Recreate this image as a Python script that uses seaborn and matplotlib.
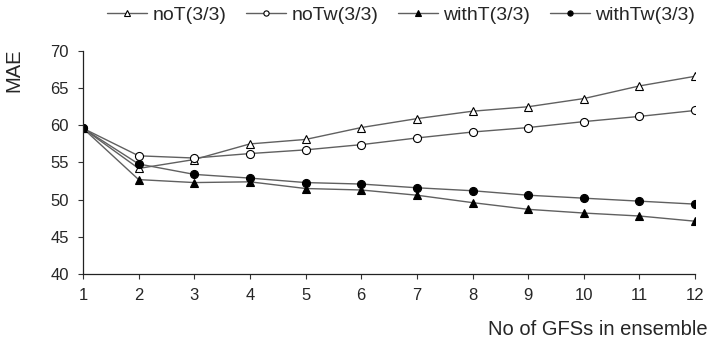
import pandas as pd
import matplotlib
matplotlib.use("Agg")
import matplotlib.pyplot as plt
import seaborn as sns

# values
n_gfs = [1, 2, 3, 4, 5, 6, 7, 8, 9, 10, 11, 12]
noT = [59.6, 54.2, 55.4, 57.5, 58.1, 59.7, 60.9, 61.9, 62.5, 63.6, 65.3, 66.6]
noTw = [59.6, 55.9, 55.6, 56.2, 56.7, 57.4, 58.3, 59.1, 59.7, 60.5, 61.2, 62.0]
withT = [59.6, 52.7, 52.3, 52.4, 51.5, 51.3, 50.6, 49.6, 48.7, 48.2, 47.8, 47.1]
withTw = [59.6, 54.8, 53.4, 52.9, 52.3, 52.1, 51.6, 51.2, 50.6, 50.2, 49.8, 49.4]
series_names = ["noT(3/3)", "noTw(3/3)", "withT(3/3)", "withTw(3/3)"]
y_ticks = [40, 45, 50, 55, 60, 65, 70]

sns.set_style("white")
plt.rcParams['font.family'] = ['Liberation Sans', 'DejaVu Sans']

df = pd.DataFrame({
    "n": n_gfs * 4,
    "MAE": noT + noTw + withT + withTw,
    "series": [s for s in series_names for _ in n_gfs],
})

styles = {
    "noT(3/3)": ("^", "white"),
    "noTw(3/3)": ("o", "white"),
    "withT(3/3)": ("^", "black"),
    "withTw(3/3)": ("o", "black"),
}

fig = plt.figure(figsize=(7.11, 3.45), dpi=100)
ax = fig.add_axes([0.1167, 0.2058, 0.861, 0.6464])

for name in series_names:
    marker, face = styles[name]
    sub = df[df["series"] == name]
    sns.lineplot(data=sub, x="n", y="MAE", ax=ax, color="#606060", linewidth=1.0,
                 marker=marker, markersize=6.3 if marker == "^" else 5.8,
                 markerfacecolor=face, markeredgecolor="black", markeredgewidth=0.8,
                 label=name)

ax.set_xlim(1, 12)
ax.set_ylim(40, 70)
ax.set_xticks(n_gfs)
ax.set_yticks(y_ticks)
ax.tick_params(axis="both", direction="out", length=3.6, width=0.8, color="#333333",
               labelsize=12, bottom=True, left=True, pad=6.5)
for side in ["top", "right"]:
    ax.spines[side].set_visible(False)
for side in ["left", "bottom"]:
    ax.spines[side].set_color("#222222")
    ax.spines[side].set_linewidth(0.9)

ax.set_ylabel("MAE", fontsize=14.5)
ax.yaxis.set_label_coords(-0.098, 0.915)
ax.set_xlabel("No of GFSs in ensemble", fontsize=14.5, ha="right")
ax.xaxis.set_label_coords(1.021, -0.205)

ax.legend(loc="center", bbox_to_anchor=(0.564, 0.957), bbox_transform=fig.transFigure,
          ncol=4, frameon=False, fontsize=14, handlelength=2.05, columnspacing=1.0,
          handletextpad=0.3, markerscale=0.65, borderpad=0, borderaxespad=0)

fig.savefig("out.png", dpi=100)
